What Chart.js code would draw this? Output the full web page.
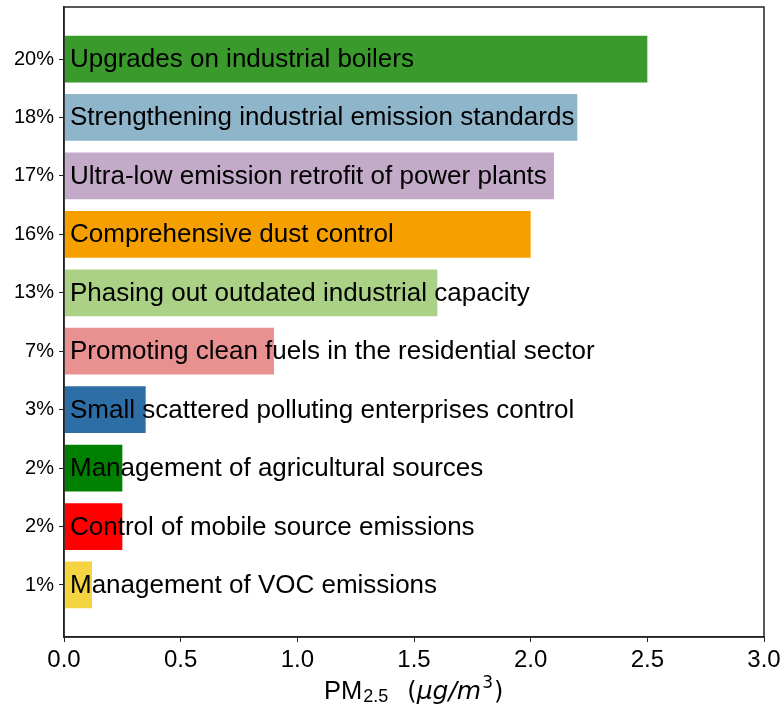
<!DOCTYPE html>
<html>
<head>
<meta charset="utf-8">
<script src="https://cdn.jsdelivr.net/npm/chart.js@4"></script>
<style>
  html, body { margin: 0; padding: 0; background: #fff; }
  #wrap { width: 784px; height: 714px; }
</style>
</head>
<body>
<div id="wrap"><canvas id="barChart" width="784" height="714"></canvas></div>
<script>
// measures, top to bottom
let measures = [
    'Upgrades on industrial boilers',
    'Strengthening industrial emission standards',
    'Ultra-low emission retrofit of power plants',
    'Comprehensive dust control',
    'Phasing out outdated industrial capacity',
    'Promoting clean fuels in the residential sector',
    'Small scattered polluting enterprises control',
    'Management of agricultural sources',
    'Control of mobile source emissions',
    'Management of VOC emissions'
];

let shares = ['20%', '18%', '17%', '16%', '13%', '7%', '3%', '2%', '2%', '1%'];

let pmValues = [2.5, 2.2, 2.1, 2.0, 1.6, 0.9, 0.35, 0.25, 0.25, 0.12];

let barColors = [
    '#3a9a2c',
    '#8fb5cb',
    '#c3aac9',
    '#f5a000',
    '#aad185',
    '#e99190',
    '#2e6ea6',
    '#008000',
    '#ff0000',
    '#f5d442'
];

const font = "'Liberation Sans', Arial, sans-serif";
const mathFont = "'DejaVu Sans', sans-serif";

// text written inside each bar, starting at the bar base
const barText = {
    id: 'barText',
    afterDatasetsDraw(chart) {
        const ctx = chart.ctx;
        const meta = chart.getDatasetMeta(0);
        ctx.save();
        ctx.font = '26px ' + font;
        ctx.fillStyle = '#000';
        ctx.textBaseline = 'alphabetic';
        ctx.textAlign = 'left';
        meta.data.forEach((bar, i) => {
            ctx.fillText(measures[i], chart.chartArea.left + 6, bar.y + 8);
        });
        ctx.restore();
    }
};

// box around the plot, and the x title with subscript / italic parts
const frame = {
    id: 'frame',
    afterDraw(chart) {
        const ctx = chart.ctx;
        const a = chart.chartArea;
        ctx.save();
        ctx.strokeStyle = '#222';
        ctx.lineWidth = 1.5;
        ctx.strokeRect(a.left, a.top, a.right - a.left, a.bottom - a.top);

        let x = 324, y = 699;
        ctx.fillStyle = '#000';
        ctx.textBaseline = 'alphabetic';
        ctx.textAlign = 'left';
        const part = (t, f, dy, gap) => {
            ctx.font = f;
            ctx.fillText(t, x, y + dy);
            x += ctx.measureText(t).width + (gap || 0);
        };
        part('PM', '25.5px ' + font, 0, 1);
        part('2.5', '18px ' + font, 3, 19);
        part('(', '24px ' + mathFont, 0);
        part('\u03bcg/m', 'oblique 25px ' + mathFont, 0, 1);
        part('3', '17px ' + mathFont, -11, 1);
        part(')', '24px ' + mathFont, 0);
        ctx.restore();
    }
};

const config = {
    type: 'bar',
    data: {
        datasets: [{
            data: pmValues.map((v, i) => ({ x: v, y: i })),
            backgroundColor: barColors,
            borderWidth: 0,
            categoryPercentage: 1,
            barPercentage: 0.8
        }]
    },
    options: {
        indexAxis: 'y',
        responsive: false,
        animation: false,
        layout: { padding: { top: 7, right: 20, left: 0, bottom: 0 } },
        plugins: {
            legend: { display: false },
            tooltip: { enabled: false }
        },
        scales: {
            x: {
                type: 'linear',
                min: 0,
                max: 3,
                grid: { drawOnChartArea: false, drawTicks: true, tickLength: 5, color: '#222' },
                border: { color: '#222', width: 1.5 },
                ticks: {
                    stepSize: 0.5,
                    color: '#000',
                    font: { size: 24, family: font },
                    padding: 4,
                    maxRotation: 0,
                    callback: v => v.toFixed(1)
                },
                afterFit: s => { s.height = 77; s.paddingLeft = 0; s.paddingRight = 0; }
            },
            y: {
                type: 'linear',
                reverse: true,
                offset: false,
                min: -0.89,
                max: 9.89,
                afterBuildTicks: s => { s.ticks = shares.map((_, i) => ({ value: i })); },
                grid: { offset: false, drawOnChartArea: false, drawTicks: true, tickLength: 5, color: '#222' },
                border: { color: '#222', width: 1.5 },
                ticks: {
                    color: '#000',
                    font: { size: 20, family: font },
                    padding: 5,
                    callback: v => shares[v]
                },
                afterFit: s => { s.width = 64; s.paddingTop = 0; s.paddingBottom = 0; }
            }
        }
    },
    plugins: [barText, frame]
};

const chart = new Chart(document.getElementById('barChart'), config);
</script>
</body>
</html>
